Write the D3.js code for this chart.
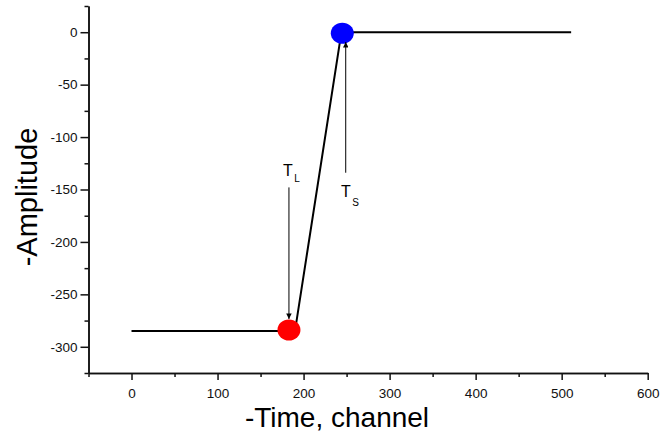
<!DOCTYPE html>
<html>
<head>
<meta charset="utf-8">
<script src="https://cdn.jsdelivr.net/npm/d3@7"></script>
<style>
  body { margin: 0; background: #fff; }
  svg { display: block; font-family: "Liberation Sans", Arial, sans-serif; }
</style>
</head>
<body>
<div id="chart"></div>
<script>
// pulse trace (channel, amplitude)
var traceX = [0, 190, 244, 511];
var traceY = [-285, -285, 0, 0];

// marked points: T_L (red) and T_S (blue)
var markX = [183, 245];
var markY = [-284, -1];
var markColor = ["#ff0000", "#0000ff"];

// annotation arrows and labels
var arrowX = [183, 249];
var arrowFrom = [-148, -134];
var arrowTo = [-273.5, -9.3];
var labelX = [176, 243.6];
var labelY = [-137, -157];
var labelSub = ["L", "S"];
var labelSubDy = [6.5, 9];

var xMajor = [0, 100, 200, 300, 400, 500, 600];
var xMinor = [-50, 50, 150, 250, 350, 450, 550];
var yMajor = [-300, -250, -200, -150, -100, -50, 0];
var yMinor = [-325, -275, -225, -175, -125, -75, -25, 25];

var width = 662, height = 433;
var plotLeft = 88.5, plotRight = 647.7, plotTop = 6, plotBottom = 373;

var svg = d3.select("#chart").append("svg")
    .attr("width", width)
    .attr("height", height);

var x = d3.scaleLinear().domain([-50, 600]).range([plotLeft, plotRight]);
var y = d3.scaleLinear().domain([-325, 25]).range([plotBottom, plotTop]);

function styleAxis(g) {
    g.selectAll("path, line").attr("stroke", "#111").attr("stroke-width", 1.5);
    g.selectAll("text").attr("fill", "#111").style("font-size", "13.5px")
        .style("font-family", "'Liberation Sans', Arial, sans-serif");
}

// x axis
svg.append("g")
    .attr("transform", "translate(0," + plotBottom + ")")
    .call(d3.axisBottom(x).tickValues(xMajor).tickSize(7).tickSizeOuter(0)
        .tickPadding(8).tickFormat(function (d) { return String(d); }))
    .call(styleAxis);
svg.append("g")
    .attr("transform", "translate(0," + plotBottom + ")")
    .call(d3.axisBottom(x).tickValues(xMinor).tickSize(4).tickSizeOuter(0)
        .tickFormat(""))
    .call(styleAxis);

// y axis
svg.append("g")
    .attr("transform", "translate(" + plotLeft + ",0)")
    .call(d3.axisLeft(y).tickValues(yMajor).tickSize(8).tickSizeOuter(0)
        .tickPadding(3).tickFormat(function (d) { return String(d); }))
    .call(styleAxis);
svg.append("g")
    .attr("transform", "translate(" + plotLeft + ",0)")
    .call(d3.axisLeft(y).tickValues(yMinor).tickSize(4).tickSizeOuter(0)
        .tickFormat(""))
    .call(styleAxis);

// axis titles
svg.append("text")
    .attr("x", 337).attr("y", 427)
    .attr("text-anchor", "middle")
    .style("font-size", "28px")
    .text("-Time, channel");

svg.append("text")
    .attr("transform", "translate(37,197) rotate(-90)")
    .attr("text-anchor", "middle")
    .style("font-size", "29px")
    .text("-Amplitude");

// trace
var trace = traceX.map(function (d, i) { return [d, traceY[i]]; });
svg.append("path")
    .attr("d", d3.line().x(function (d) { return x(d[0]); }).y(function (d) { return y(d[1]); })(trace))
    .attr("fill", "none")
    .attr("stroke", "#000")
    .attr("stroke-width", 2);

// markers
svg.selectAll("ellipse.mark")
    .data(markX)
    .enter().append("ellipse")
    .attr("class", "mark")
    .attr("cx", function (d) { return x(d); })
    .attr("cy", function (d, i) { return y(markY[i]); })
    .attr("rx", 11.5)
    .attr("ry", 10.5)
    .attr("fill", function (d, i) { return markColor[i]; });

// arrows
svg.append("defs").append("marker")
    .attr("id", "head")
    .attr("markerUnits", "userSpaceOnUse")
    .attr("viewBox", "0 0 10 10")
    .attr("refX", 10).attr("refY", 5)
    .attr("markerWidth", 9).attr("markerHeight", 5.5)
    .attr("orient", "auto")
    .append("path")
    .attr("d", "M0,0 L10,5 L0,10 Z")
    .attr("fill", "#000");

svg.selectAll("line.arrow")
    .data(arrowX)
    .enter().append("line")
    .attr("class", "arrow")
    .attr("x1", function (d) { return x(d); })
    .attr("x2", function (d) { return x(d); })
    .attr("y1", function (d, i) { return y(arrowFrom[i]); })
    .attr("y2", function (d, i) { return y(arrowTo[i]); })
    .attr("stroke", "#000")
    .attr("stroke-width", 1)
    .attr("marker-end", "url(#head)");

// labels T_L, T_S
var labels = svg.selectAll("text.lab")
    .data(labelX)
    .enter().append("text")
    .attr("class", "lab")
    .attr("x", function (d) { return x(d); })
    .attr("y", function (d, i) { return y(labelY[i]); })
    .style("font-size", "16px");
labels.append("tspan").text("T");
labels.append("tspan")
    .attr("dx", 1.5)
    .attr("dy", function (d, i) { return labelSubDy[i]; })
    .style("font-size", "10px")
    .text(function (d, i) { return labelSub[i]; });
</script>
</body>
</html>
